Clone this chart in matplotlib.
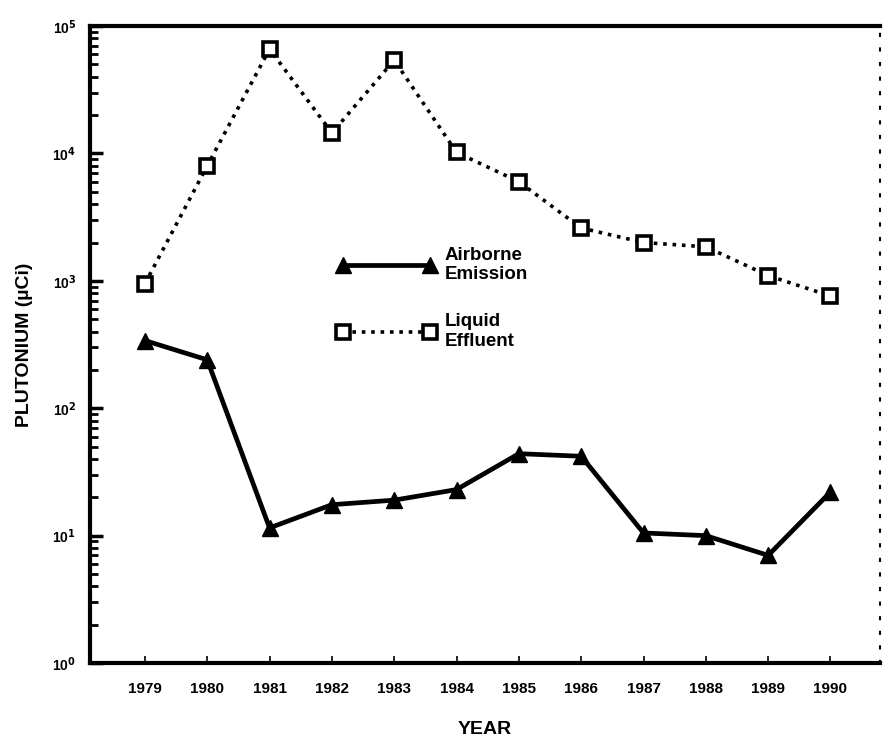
import numpy as np
import matplotlib.pyplot as plt
from matplotlib.ticker import LogLocator, FixedLocator, NullFormatter

plt.rcParams['font.family'] = ['Liberation Sans', 'DejaVu Sans']
plt.rcParams['font.weight'] = 'bold'

years = [1979, 1980, 1981, 1982, 1983, 1984, 1985, 1986, 1987, 1988, 1989, 1990]
# Plutonium, microcuries
liquid = [950, 8000, 66000, 14500, 54000, 10200, 6000, 2600, 2000, 1850, 1100, 760]
airborne = [340, 240, 11.5, 17.5, 19, 23, 44, 42, 10.5, 10, 7, 22]
ytick_vals = [1, 10, 100, 1000, 10000, 100000]
ytick_labels = ['10$^0$', '10$^1$', '10$^2$', '10$^3$', '10$^4$', '10$^5$']

fig = plt.figure(figsize=(8.83, 7.45), dpi=100)
ax = fig.add_axes([0.102, 0.110, 0.895, 0.855])

ax.semilogy(years, liquid, color='black', linestyle=(0, (1, 1.6)), linewidth=2.6,
            marker='s', markersize=10, markerfacecolor='white', markeredgewidth=2.6,
            label='Liquid\nEffluent')
ax.semilogy(years, airborne, color='black', linestyle='-', linewidth=3.4,
            marker='^', markersize=12, markerfacecolor='black',
            label='Airborne\nEmission')

ax.set_xlim(1978.12, 1990.8)
ax.set_ylim(1, 1e5)
ax.set_xticks(years)
ax.set_xticklabels([str(y) for y in years], fontsize=11, fontweight='bold')
ax.yaxis.set_major_locator(FixedLocator(ytick_vals))
ax.set_yticklabels(ytick_labels, fontsize=10, fontweight='bold')
ax.yaxis.set_minor_locator(LogLocator(base=10, subs=np.arange(2, 10)))
ax.yaxis.set_minor_formatter(NullFormatter())
ax.tick_params(axis='y', which='major', direction='in', length=9, width=2.5, pad=10)
ax.tick_params(axis='y', which='minor', direction='in', length=6, width=2)
ax.tick_params(axis='x', which='major', direction='in', length=5, width=1.2, pad=14)
ax.tick_params(axis='x', which='minor', length=0)

for side in ['left', 'bottom', 'top']:
    ax.spines[side].set_linewidth(3)
ax.spines['right'].set_linestyle((0, (1, 6)))
ax.spines['right'].set_linewidth(1.5)

ax.set_xlabel('YEAR', fontsize=14, fontweight='bold', labelpad=18)
ax.set_ylabel('PLUTONIUM (µCi)', fontsize=14, fontweight='bold', labelpad=14)

handles, labels = ax.get_legend_handles_labels()
leg = ax.legend(handles[::-1], labels[::-1], loc='upper left',
                bbox_to_anchor=(0.292, 0.68), frameon=False, fontsize=13.5,
                handlelength=5.2, numpoints=2, labelspacing=1.6, handletextpad=0.5)
for t in leg.get_texts():
    t.set_fontweight('bold')

fig.savefig('out.png', dpi=100)
